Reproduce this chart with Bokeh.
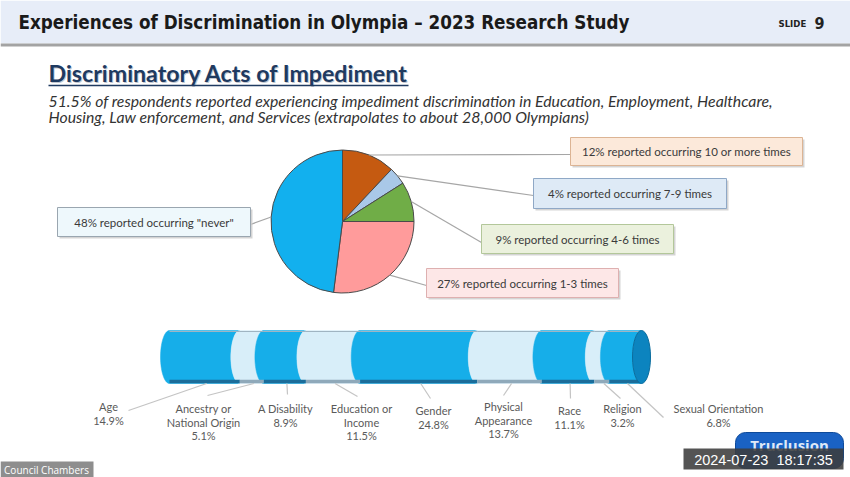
import numpy as np
from bokeh.plotting import figure
from bokeh.models import Range1d
from bokeh.core.properties import value
from bokeh.embed import file_html
from bokeh.resources import INLINE

W, H = 850, 477

# ---------------- data ----------------
title = "Experiences of Discrimination in Olympia \u2013 2023 Research Study"
heading = "Discriminatory Acts of Impediment"
subtitle = ["51.5% of respondents reported experiencing impediment discrimination in Education, Employment, Healthcare,",
            "Housing, Law enforcement, and Services (extrapolates to about 28,000 Olympians)"]

pie_labels = ["12% reported occurring 10 or more times",
              "4% reported occurring 7-9 times",
              "9% reported occurring 4-6 times",
              "27% reported occurring 1-3 times",
              "48% reported occurring \"never\""]
pie_values = [12, 4, 9, 27, 48]
pie_colors = ["#c55a11", "#a9c8e8", "#70ad47", "#ff9b9b", "#12b0ee"]

categories = [["Age"], ["Ancestry or", "National Origin"], ["A Disability"],
              ["Education or", "Income"], ["Gender"], ["Physical", "Appearance"],
              ["Race"], ["Religion"], ["Sexual Orientation"]]
shares = [14.9, 5.1, 8.9, 11.5, 24.8, 13.7, 11.1, 3.2, 6.8]


def Y(v):
    return H - v


p = figure(width=W, height=H, x_range=Range1d(0, W), y_range=Range1d(0, H),
           output_backend="svg", toolbar_location=None, min_border=0,
           x_axis_location=None, y_axis_location=None)
p.grid.visible = False
p.outline_line_color = None
p.background_fill_color = "white"
p.border_fill_color = "white"

# ---------------- header ----------------
p.quad(left=0, right=W, top=Y(0), bottom=Y(43), fill_color="#e7edf8", line_color=None)
p.quad(left=0, right=W, top=Y(43), bottom=Y(46), fill_color="#a3a3a3", line_color=None)
p.text(x=[18], y=[Y(22)], text=[title], text_font=value("DejaVu Sans Condensed"),
       text_font_style="bold", text_font_size="18.7px", text_color="#1a1a1a",
       text_baseline="middle", text_align="left")
p.text(x=[778], y=[Y(23)], text=["SLIDE"], text_font=value("DejaVu Sans Condensed"),
       text_font_style="bold", text_font_size="9.5px", text_color="#222222",
       text_baseline="middle", text_align="left")
p.text(x=[814], y=[Y(22)], text=["9"], text_font=value("DejaVu Sans Condensed"),
       text_font_style="bold", text_font_size="16px", text_color="#222222",
       text_baseline="middle", text_align="left")

# ---------------- heading ----------------
p.text(x=[49], y=[Y(73)], text=[heading], text_font=value("Lato"), text_font_style="bold",
       text_font_size="23.2px", text_color="#9aa3b0", text_alpha=0.6,
       text_baseline="middle", text_align="left")
p.text(x=[48], y=[Y(72)], text=[heading], text_font=value("Lato"), text_font_style="bold",
       text_font_size="23.2px", text_color="#1f3a60", text_baseline="middle", text_align="left")
p.segment(x0=[48], y0=[Y(85)], x1=[408], y1=[Y(85)], line_color="#1f3a60", line_width=1.5)
p.text(x=[48, 48], y=[Y(100), Y(116)], text=subtitle, text_font=value("Lato"),
       text_font_style="italic", text_font_size="15.8px", text_color="#333333",
       text_baseline="middle", text_align="left")

# ---------------- pie ----------------
cx, cy, r = 342, Y(221), 71.5
vals = np.array(pie_values, dtype=float)
frac = vals / vals.sum()
cum = np.concatenate([[0], np.cumsum(frac)])
start = np.pi / 2 - 2 * np.pi * cum[:-1]
end = np.pi / 2 - 2 * np.pi * cum[1:]
p.wedge(x=cx, y=cy, radius=r, start_angle=start, end_angle=end, direction="clock",
        fill_color=pie_colors, line_color="#4a4a4a", line_width=1)

mid = (start + end) / 2
ax = cx + r * np.cos(mid)
ay = cy + r * np.sin(mid)

# callout boxes: left, top, right, bottom (image px), fill, border, leader end
boxes = [
    (570, 137, 802, 165, "#fce9da", "#dcb494", (570, 154)),
    (533, 178, 726, 208, "#deeaf6", "#8fa8c6", (533, 195)),
    (481, 224, 673, 253, "#ebf1dd", "#b3c79a", (481, 242)),
    (426, 268, 618, 297, "#fde7e7", "#deb0b0", (426, 285)),
    (57, 207, 250, 236, "#eef8fc", "#9aa6b0", (250, 224)),
]
for i, (l, t, rr, b, fc, lc, (ex, ey)) in enumerate(boxes):
    p.segment(x0=[ax[i]], y0=[ay[i]], x1=[ex], y1=[Y(ey)], line_color="#a6a6a6", line_width=1.2)
    p.quad(left=l + 2, right=rr + 2, top=Y(t + 2), bottom=Y(b + 2), fill_color="#c9c9c9",
           line_color=None, fill_alpha=0.8)
    p.quad(left=l, right=rr, top=Y(t), bottom=Y(b), fill_color=fc, line_color=lc, line_width=1)
    p.text(x=[(l + rr) / 2], y=[Y((t + b) / 2)], text=[pie_labels[i]], text_font=value("Lato"),
           text_font_size="11.5px", text_color="#3a3a3a", text_baseline="middle", text_align="center")

# ---------------- cylinder ----------------
x_start, x_end = 169, 641
ycy, a, bb = Y(356.5), 9.0, 26.5
sh = np.array(shares)
edges = x_start + (x_end - x_start) * np.concatenate([[0], np.cumsum(sh)]) / sh.sum()
tt = np.linspace(np.pi / 2, -np.pi / 2, 40)


def left_arc(xc, down=True):
    t = tt if down else tt[::-1]
    return list(xc - a * np.cos(t)), list(ycy + bb * np.sin(t))


xs, ys, cols, dark = [], [], [], []
for i in range(len(sh)):
    x1a, y1a = left_arc(edges[i + 1], True)
    x0a, y0a = left_arc(edges[i], False)
    xs.append(x1a + x0a)
    ys.append(y1a + y0a)
    cols.append("#16aee9" if i % 2 == 0 else "#d8eef9")
    dark.append("#1b6d9a" if i % 2 == 0 else "#8fa9ba")
p.patches(xs=xs, ys=ys, fill_color=cols, line_color=cols, line_width=0.5)
# bottom shading
p.segment(x0=edges[:-1], y0=[ycy - bb + 2] * len(sh), x1=edges[1:], y1=[ycy - bb + 2] * len(sh),
          line_color=dark, line_width=3.5)
# top highlight
p.segment(x0=edges[:-1], y0=[ycy + bb - 1] * len(sh), x1=edges[1:], y1=[ycy + bb - 1] * len(sh),
          line_color="#9fb4c2", line_width=1)
p.ellipse(x=x_end, y=ycy, width=2 * a, height=2 * bb, fill_color="#0c84bf", line_color="#0b6d9e")

# labels under cylinder
lab_pos = [(108, 406, (128, 410)), (203, 408, (207, 395)), (285, 408, (287, 394)),
           (361, 408, (357, 396)), (433, 410, (430, 398)), (503, 406, (503, 395)),
           (569, 410, (570, 398)), (622, 408, (620, 398)), (718, 408, (663, 417))]
centers = (edges[:-1] + edges[1:]) / 2 + 2
for i, (lx, ly, (bx, by)) in enumerate(lab_pos):
    lines = categories[i] + [f"{shares[i]}%"]
    p.segment(x0=[bx], y0=[Y(by)], x1=[centers[i]], y1=[ycy - bb], line_color="#c4c4c4", line_width=1.2)
    p.text(x=[lx] * len(lines), y=[Y(ly + 13.5 * k) for k in range(len(lines))], text=lines,
           text_font=value("Lato"), text_font_size="11px", text_color="#5a5a5a",
           text_baseline="middle", text_align="center")

# ---------------- overlays ----------------
p.quad(left=735, right=843, top=Y(432), bottom=Y(468), fill_color="#1a62c4", line_color="#0e4a9a",
       border_radius=10)
p.text(x=[789], y=[Y(444)], text=["Truclusion"], text_font=value("Open Sans"), text_font_style="bold",
       text_font_size="15px", text_color="#dfe9f7", text_baseline="middle", text_align="center")
p.quad(left=683, right=843, top=Y(448), bottom=Y(469), fill_color="#3c3c3c", fill_alpha=0.88, line_color=None)
p.text(x=[763], y=[Y(459)], text=["2024-07-23\u00a0 18:17:35"], text_font=value("Liberation Sans"),
       text_font_size="14.5px", text_color="white", text_baseline="middle", text_align="center")
p.quad(left=0, right=93, top=Y(461), bottom=Y(477), fill_color="#8e8e8e", line_color=None)
p.text(x=[46], y=[Y(469)], text=["Council Chambers"], text_font=value("Open Sans"),
       text_font_size="10px", text_color="white", text_baseline="middle", text_align="center")

open("out.html", "w").write(file_html(p, INLINE))
